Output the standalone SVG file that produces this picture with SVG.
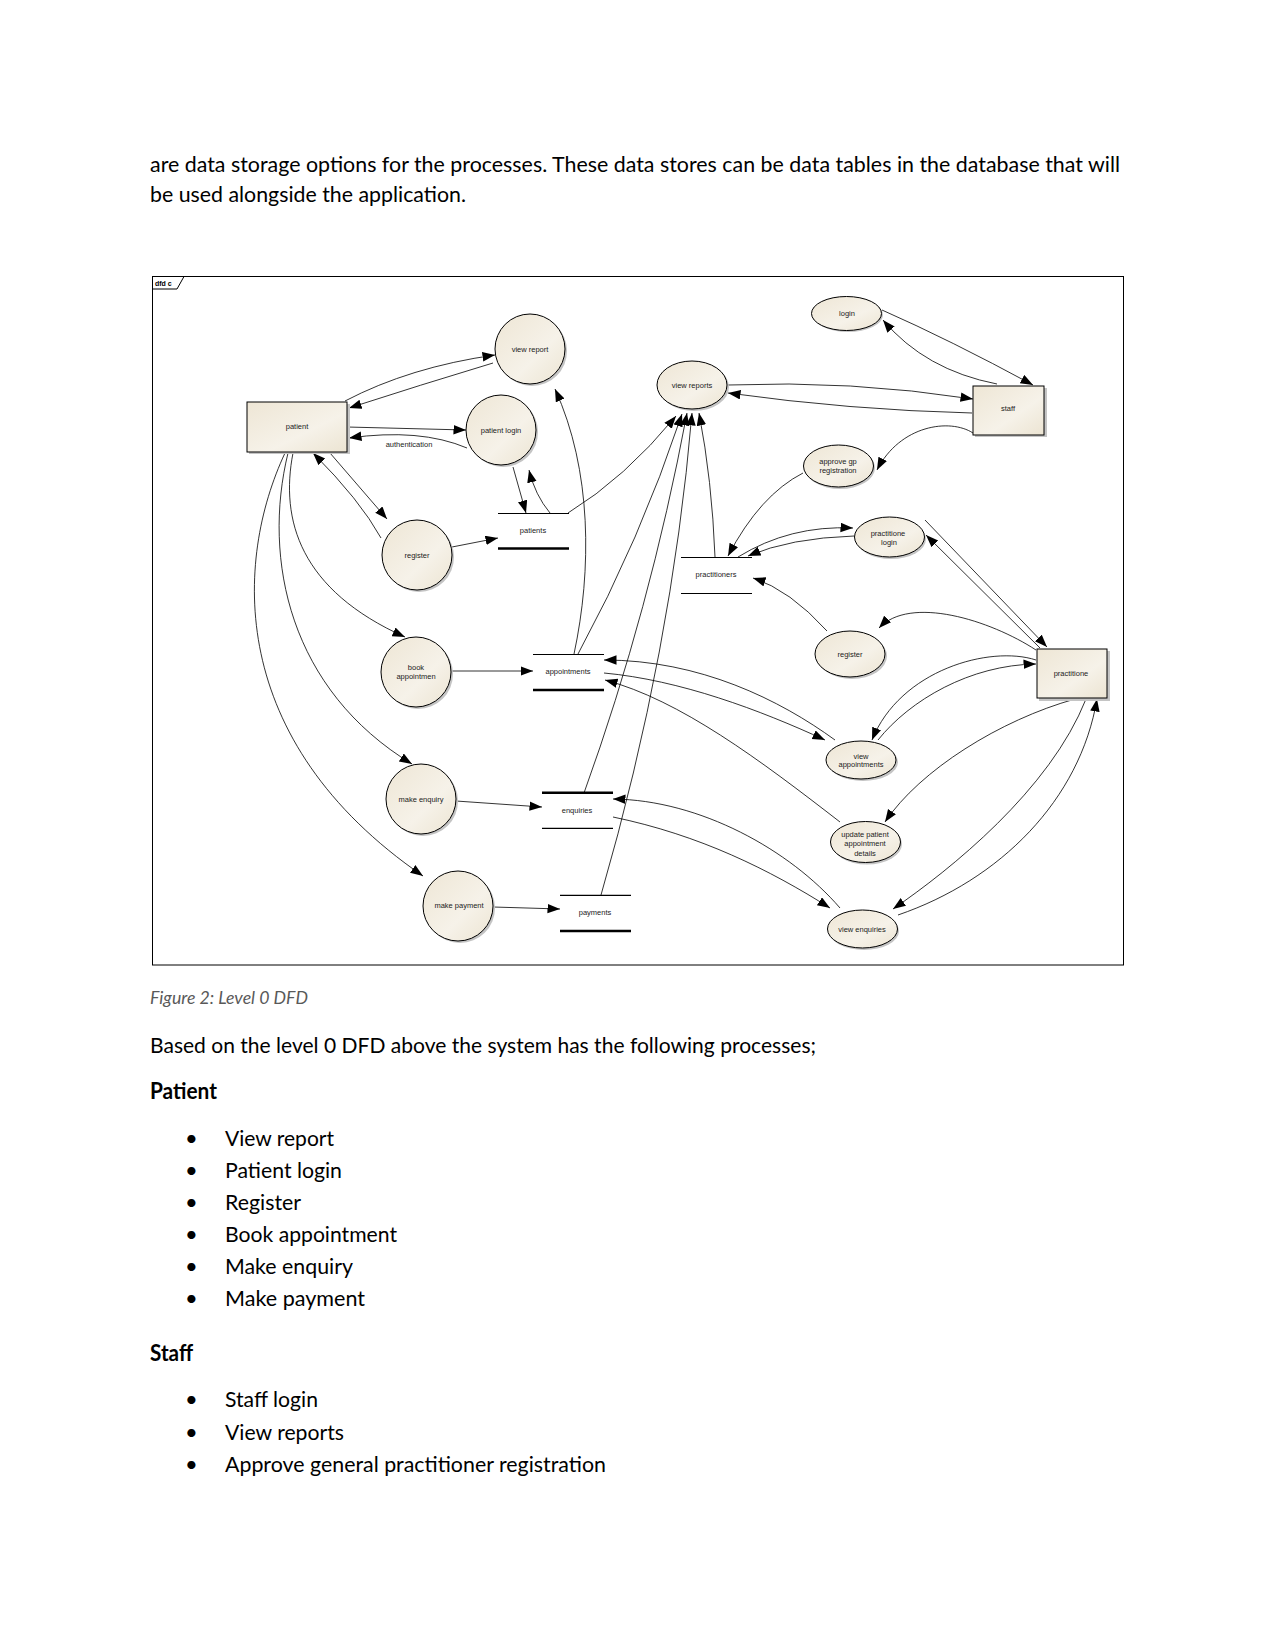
<svg xmlns="http://www.w3.org/2000/svg" width="1275" height="1650" viewBox="0 0 1275 1650">
<defs>
<linearGradient id="g" x1="0" y1="0" x2="1" y2="1">
<stop offset="0" stop-color="#EEE6D5"/>
<stop offset="0.6" stop-color="#F6F2E9"/>
<stop offset="1" stop-color="#ECE4D2"/>
</linearGradient>
<marker id="ah" markerUnits="userSpaceOnUse" markerWidth="14" markerHeight="11" refX="12.5" refY="4.75" orient="auto">
<path d="M0,0 L12.5,4.75 L0,9.5 z" fill="#000"/>
</marker>
<style>
.doc{font-family:Lato,"Liberation Sans",sans-serif;font-size:22px;fill:#000}
.b{font-weight:bold}
.cap{font-family:Lato,"Liberation Sans",sans-serif;font-size:17px;font-style:italic;fill:#595959}
.lbl{font-family:"Liberation Sans",Arial,sans-serif;font-size:7.5px;fill:#222;text-anchor:middle;dominant-baseline:central}
.nd{fill:url(#g);stroke:#000;stroke-width:1}
.sh{fill:#c4c4c4}
.st{stroke:#000;stroke-width:1.2}
.stk{stroke:#000;stroke-width:2.4}
.c{fill:none;stroke:#000;stroke-width:0.8;marker-end:url(#ah)}
.frm{fill:none;stroke:#000;stroke-width:1}
</style>
</defs>
<rect width="1275" height="1650" fill="#fff"/>

<g id="text-top">
<text class="doc" x="150" y="172" textLength="970" lengthAdjust="spacingAndGlyphs">are data storage options for the processes. These data stores can be data tables in the database that will</text>
<text class="doc" x="150" y="201.5" textLength="316" lengthAdjust="spacingAndGlyphs">be used alongside the application.</text>
</g>

<g id="frame">
<rect class="frm" x="152.5" y="276.5" width="971" height="688.5"/>
<path d="M152.5 289 L177 289 L184 276.5" class="frm"/>
<text x="155" y="285.5" style="font-family:'Liberation Sans',sans-serif;font-size:7px;font-weight:bold;fill:#000">dfd c</text>
</g>

<g id="connectors">
<path class="c" d="M345 401 Q410 367 495 355"/>
<path class="c" d="M493 363 Q420 385 349 408"/>
<path class="c" d="M347 427 L466 430"/>
<path class="c" d="M467 448 Q420 428 349 438"/>
<text class="lbl" x="409" y="444">authentication</text>
<path class="c" d="M330 453 L387 519"/>
<path class="c" d="M381 538 Q360 500 313 453"/>
<path class="c" d="M513 467 L526 513"/>
<path class="c" d="M550 513 Q535 495 529 470"/>
<path class="c" d="M452 547 L498 538"/>
<path class="c" d="M568 513 Q625 478 676 416"/>
<path class="c" d="M574 654 C592 570 592 470 555 389"/>
<path class="c" d="M578 654 Q640 540 682 414"/>
<path class="c" d="M584 793 Q650 610 687 413"/>
<path class="c" d="M601 895 Q672 650 692 413"/>
<path class="c" d="M715 557 Q712 480 699 413"/>
<path class="c" d="M728 385 Q850 380 973 399"/>
<path class="c" d="M972 413 Q850 410 728 393"/>
<path class="c" d="M882 310 Q950 340 1033 385"/>
<path class="c" d="M997 384 Q925 370 883 320"/>
<path class="c" d="M973 433 C950 418 900 425 877 470"/>
<path class="c" d="M803 473 Q760 495 728 556"/>
<path class="c" d="M738 557 Q790 525 853 528"/>
<path class="c" d="M854 536 Q790 538 748 556"/>
<path class="c" d="M925 520 L1047 647"/>
<path class="c" d="M1040 648 L926 535"/>
<path class="c" d="M1036 650 C990 620 910 595 879 628"/>
<path class="c" d="M827 631 Q790 590 753 578"/>
<path class="c" d="M1036 660 C990 645 900 670 872 740"/>
<path class="c" d="M878 740 C910 700 970 665 1036 664"/>
<path class="c" d="M1075 699 C1000 720 920 770 885 822"/>
<path class="c" d="M1086 699 C1050 790 950 870 893 909"/>
<path class="c" d="M898 915 C1000 880 1080 800 1097 699"/>
<path class="c" d="M835 740 C780 700 700 660 604 660"/>
<path class="c" d="M604 673 C680 680 760 710 825 740"/>
<path class="c" d="M840 822 C760 760 680 700 605 680"/>
<path class="c" d="M840 908 C790 850 700 800 613 799"/>
<path class="c" d="M613 817 C700 835 770 870 830 908"/>
<path class="c" d="M293 453 C280 520 300 590 405 637"/>
<path class="c" d="M288 453 C262 560 290 690 412 764"/>
<path class="c" d="M285 453 C235 560 225 740 423 876"/>
<path class="c" d="M451 671 L533 671"/>
<path class="c" d="M456 801 L542 807"/>
<path class="c" d="M493 907 L560 909"/>
</g>

<g id="patient">
<rect class="sh" x="249" y="404" width="101" height="50"/>
<rect class="nd" x="247" y="402" width="100" height="50"/>
<text class="lbl" x="297" y="426">patient</text>
</g>
<g id="staff">
<rect class="sh" x="975" y="388" width="72" height="49"/>
<rect class="nd" x="973" y="386" width="71" height="49"/>
<text class="lbl" x="1008" y="408">staff</text>
</g>
<g id="practitioner-entity">
<rect class="sh" x="1039" y="651" width="71" height="50"/>
<rect class="nd" x="1037" y="649" width="70" height="49"/>
<text class="lbl" x="1071" y="673">practitione</text>
</g>

<g id="view-report">
<circle class="sh" cx="532" cy="351" r="35"/>
<circle class="nd" cx="530" cy="349" r="35"/>
<text class="lbl" x="530" y="349">view report</text>
</g>
<g id="patient-login">
<circle class="sh" cx="503" cy="432" r="35"/>
<circle class="nd" cx="501" cy="430" r="35"/>
<text class="lbl" x="501" y="430">patient login</text>
</g>
<g id="register-patient">
<circle class="sh" cx="419" cy="557" r="35"/>
<circle class="nd" cx="417" cy="555" r="35"/>
<text class="lbl" x="417" y="555">register</text>
</g>
<g id="book-appointment">
<circle class="sh" cx="418" cy="674" r="35"/>
<circle class="nd" cx="416" cy="672" r="35"/>
<text class="lbl" x="416" y="667">book</text>
<text class="lbl" x="416" y="676">appointmen</text>
</g>
<g id="make-enquiry">
<circle class="sh" cx="423" cy="801" r="35"/>
<circle class="nd" cx="421" cy="799" r="35"/>
<text class="lbl" x="421" y="799">make enquiry</text>
</g>
<g id="make-payment">
<circle class="sh" cx="460" cy="908" r="35"/>
<circle class="nd" cx="458" cy="906" r="35"/>
<text class="lbl" x="459" y="905">make payment</text>
</g>
<g id="view-reports">
<ellipse class="sh" cx="694" cy="387" rx="35" ry="24"/>
<ellipse class="nd" cx="692" cy="385" rx="35" ry="24"/>
<text class="lbl" x="692" y="385">view reports</text>
</g>
<g id="login">
<ellipse class="sh" cx="848" cy="315" rx="35" ry="17"/>
<ellipse class="nd" cx="846.5" cy="313.5" rx="35" ry="17"/>
<text class="lbl" x="847" y="313">login</text>
</g>
<g id="approve-gp">
<ellipse class="sh" cx="840" cy="468" rx="35" ry="21"/>
<ellipse class="nd" cx="838.5" cy="466" rx="35" ry="21"/>
<text class="lbl" x="838" y="461">approve gp</text>
<text class="lbl" x="838" y="470">registration</text>
</g>
<g id="practitioner-login">
<ellipse class="sh" cx="891" cy="539" rx="35" ry="20"/>
<ellipse class="nd" cx="889.5" cy="537" rx="35" ry="20"/>
<text class="lbl" x="888" y="533">practitione</text>
<text class="lbl" x="889" y="542">login</text>
</g>
<g id="register-practitioner">
<ellipse class="sh" cx="852" cy="656" rx="35" ry="23"/>
<ellipse class="nd" cx="850" cy="654" rx="35" ry="23"/>
<text class="lbl" x="850" y="654">register</text>
</g>
<g id="view-appointments">
<ellipse class="sh" cx="863" cy="762" rx="35" ry="19"/>
<ellipse class="nd" cx="861" cy="760" rx="35" ry="19"/>
<text class="lbl" x="861" y="756">view</text>
<text class="lbl" x="861" y="764.5">appointments</text>
</g>
<g id="update-patient-appointment">
<ellipse class="sh" cx="867" cy="844" rx="35" ry="20.5"/>
<ellipse class="nd" cx="865.5" cy="842" rx="35" ry="20.5"/>
<text class="lbl" x="865" y="834">update patient</text>
<text class="lbl" x="865" y="843">appointment</text>
<text class="lbl" x="865" y="853">details</text>
</g>
<g id="view-enquiries">
<ellipse class="sh" cx="864" cy="931" rx="35" ry="19"/>
<ellipse class="nd" cx="862.5" cy="929" rx="35" ry="19"/>
<text class="lbl" x="862" y="929">view enquiries</text>
</g>

<g id="store-patients">
<line class="st" x1="498" y1="513.5" x2="569" y2="513.5"/>
<line class="stk" x1="498" y1="548.5" x2="569" y2="548.5"/>
<text class="lbl" x="533" y="530">patients</text>
</g>
<g id="store-practitioners">
<line class="st" x1="681" y1="557.5" x2="752" y2="557.5"/>
<line class="st" x1="681" y1="593.5" x2="752" y2="593.5"/>
<text class="lbl" x="716" y="574">practitioners</text>
</g>
<g id="store-appointments">
<line class="st" x1="533" y1="654.5" x2="604" y2="654.5"/>
<line class="stk" x1="533" y1="690" x2="604" y2="690"/>
<text class="lbl" x="568" y="671">appointments</text>
</g>
<g id="store-enquiries">
<line class="stk" x1="542" y1="792.7" x2="613" y2="792.7"/>
<line class="st" x1="542" y1="828.3" x2="613" y2="828.3"/>
<text class="lbl" x="577" y="810">enquiries</text>
</g>
<g id="store-payments">
<line class="st" x1="560" y1="895.3" x2="631" y2="895.3"/>
<line class="stk" x1="560" y1="931" x2="631" y2="931"/>
<text class="lbl" x="595" y="912">payments</text>
</g>

<g id="text-bottom">
<text class="cap" x="150" y="1004" textLength="158" lengthAdjust="spacingAndGlyphs">Figure 2: Level 0 DFD</text>
<text class="doc" x="150" y="1052.5" textLength="666" lengthAdjust="spacingAndGlyphs">Based on the level 0 DFD above the system has the following processes;</text>
<text class="doc b" x="150" y="1099" textLength="67" lengthAdjust="spacingAndGlyphs">Patient</text>
<text class="doc" x="185" y="1146">•</text>
<text class="doc" x="225" y="1146" textLength="109" lengthAdjust="spacingAndGlyphs">View report</text>
<text class="doc" x="185" y="1178">•</text>
<text class="doc" x="225" y="1178" textLength="117" lengthAdjust="spacingAndGlyphs">Patient login</text>
<text class="doc" x="185" y="1210">•</text>
<text class="doc" x="225" y="1210" textLength="76" lengthAdjust="spacingAndGlyphs">Register</text>
<text class="doc" x="185" y="1242">•</text>
<text class="doc" x="225" y="1242" textLength="172" lengthAdjust="spacingAndGlyphs">Book appointment</text>
<text class="doc" x="185" y="1274">•</text>
<text class="doc" x="225" y="1274" textLength="128" lengthAdjust="spacingAndGlyphs">Make enquiry</text>
<text class="doc" x="185" y="1306">•</text>
<text class="doc" x="225" y="1306" textLength="140" lengthAdjust="spacingAndGlyphs">Make payment</text>
<text class="doc b" x="150" y="1361" textLength="43" lengthAdjust="spacingAndGlyphs">Staff</text>
<text class="doc" x="185" y="1407">•</text>
<text class="doc" x="225" y="1407" textLength="93" lengthAdjust="spacingAndGlyphs">Staff login</text>
<text class="doc" x="185" y="1439.5">•</text>
<text class="doc" x="225" y="1439.5" textLength="119" lengthAdjust="spacingAndGlyphs">View reports</text>
<text class="doc" x="185" y="1472">•</text>
<text class="doc" x="225" y="1472" textLength="381" lengthAdjust="spacingAndGlyphs">Approve general practitioner registration</text>
</g>
</svg>
